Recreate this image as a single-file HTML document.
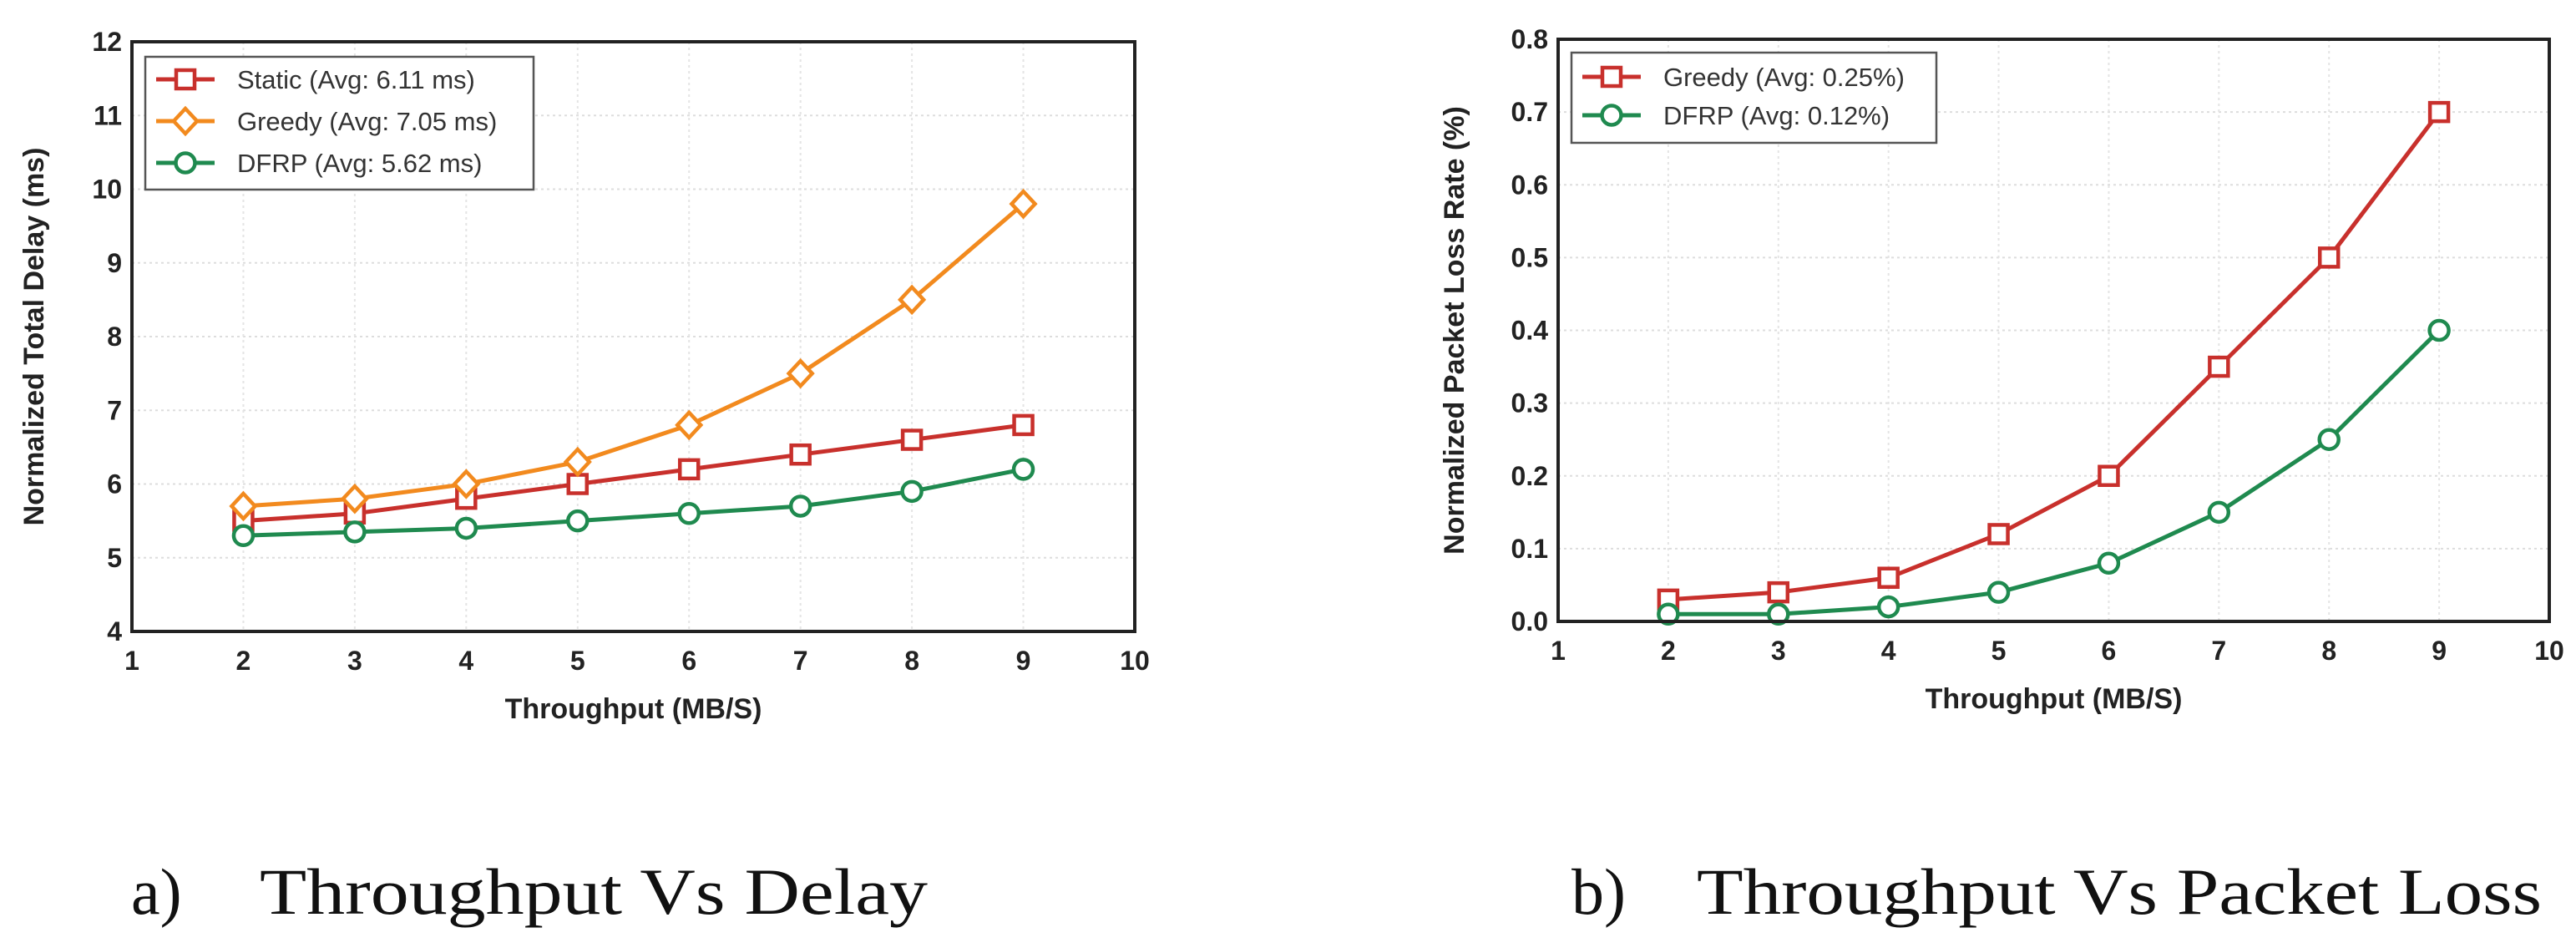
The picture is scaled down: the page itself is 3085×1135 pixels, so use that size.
<!DOCTYPE html>
<html><head><meta charset="utf-8"><style>
html,body{margin:0;padding:0;background:#fff;}
svg{display:block;font-family:"Liberation Sans",sans-serif;}
</style></head><body>
<svg id="fig" width="3085" height="1135" viewBox="0 0 3085 1135" xmlns="http://www.w3.org/2000/svg"></svg>
<script>
const xCats = [2,3,4,5,6,7,8,9];
const xTicks = [1,2,3,4,5,6,7,8,9,10];
const delayTicks = [4,5,6,7,8,9,10,11,12];
const delayStatic = [5.5,5.6,5.8,6.0,6.2,6.4,6.6,6.8];
const delayGreedy = [5.7,5.8,6.0,6.3,6.8,7.5,8.5,9.8];
const delayDFRP = [5.3,5.35,5.4,5.5,5.6,5.7,5.9,6.2];
const lossTicks = [0.0,0.1,0.2,0.3,0.4,0.5,0.6,0.7,0.8];
const lossGreedy = [0.03,0.04,0.06,0.12,0.2,0.35,0.5,0.7];
const lossDFRP = [0.01,0.01,0.02,0.04,0.08,0.15,0.25,0.4];

const NS="http://www.w3.org/2000/svg";
const svg=document.getElementById('fig');
function mk(tag,attrs,parent,text){const e=document.createElementNS(NS,tag);for(const k in attrs)e.setAttribute(k,attrs[k]);if(text!==undefined)e.textContent=text;(parent||svg).appendChild(e);return e;}
const RED="#c8302c",ORANGE="#f28a1e",GREEN="#1f8a4f";

function marker(g,type,cx,cy,color){
  let m;
  if(type==='square') m=mk('rect',{x:cx-11,y:cy-11,width:22,height:22,fill:'#fff',stroke:color,'stroke-width':4.5},g);
  else if(type==='diamond') m=mk('polygon',{points:`${cx},${cy-15} ${cx+14},${cy} ${cx},${cy+15} ${cx-14},${cy}`,fill:'#fff',stroke:color,'stroke-width':4.5},g);
  else m=mk('circle',{cx:cx,cy:cy,r:11.5,fill:'#fff',stroke:color,'stroke-width':4.5},g);
  return m;
}

function chart(cfg){
  const g=mk('g',{});
  
  
  const {L,R,T,B,ymin,ymax,yTicks,fmt}=cfg;
  const sx=v=>L+(v-1)/(10-1)*(R-L);
  const sy=v=>B-(v-ymin)/(ymax-ymin)*(B-T);
  yTicks.forEach(t=>{const l=mk('line',{x1:L,x2:R,y1:sy(t),y2:sy(t),stroke:'#ddd','stroke-width':2,'stroke-dasharray':'3 4'},g);});
  xTicks.forEach(t=>{const l=mk('line',{x1:sx(t),x2:sx(t),y1:T,y2:B,stroke:'#e4e4e4','stroke-width':2,'stroke-dasharray':'3 4'},g);});
  cfg.series.forEach(s=>{
    const sg=mk('g',{},g);
    
    
    const pts=xCats.map((x,i)=>sx(x)+','+sy(s.vals[i])).join(' ');
    const pl=mk('polyline',{points:pts,fill:'none',stroke:s.color,'stroke-width':5,'stroke-linejoin':'round'},sg);
    
    
    xCats.forEach((x,i)=>{const m=marker(sg,s.type,sx(x),sy(s.vals[i]),s.color);});
  });
  const fr=mk('rect',{x:L,y:T,width:R-L,height:B-T,fill:'none',stroke:'#222','stroke-width':4},g);
  
  yTicks.forEach(t=>{const e=mk('text',{x:L-12,y:sy(t)+11,'text-anchor':'end','font-size':32,'font-weight':'bold',fill:'#222'},g,fmt(t));});
  xTicks.forEach(t=>{const e=mk('text',{x:sx(t),y:B+46,'text-anchor':'middle','font-size':32,'font-weight':'bold',fill:'#222'},g,String(t));});
  const xt=mk('text',{x:(L+R)/2,y:B+104,'text-anchor':'middle','font-size':34,'font-weight':'bold',fill:'#222'},g,'Throughput (MB/S)');
  
  const yt=mk('text',{x:0,y:0,'text-anchor':'middle','font-size':34,'font-weight':'bold',fill:'#222',transform:`translate(${cfg.ytx},${(T+B)/2}) rotate(-90)`},g,cfg.ytitle);
  
  const lg=mk('g',{},g);
  
  mk('rect',{x:cfg.lg.x,y:cfg.lg.y,width:cfg.lg.w,height:cfg.lg.h,fill:'#fff',stroke:'#555','stroke-width':2.5},lg);
  cfg.series.forEach((s,i)=>{
    const ey=cfg.lg.y+cfg.lg.first+i*cfg.lg.step;
    const eg=mk('g',{},lg);
    
    mk('line',{x1:cfg.lg.x+13,x2:cfg.lg.x+83,y1:ey,y2:ey,stroke:s.color,'stroke-width':5},eg);
    marker(eg,s.type,cfg.lg.x+48,ey,s.color);
    mk('text',{x:cfg.lg.x+110,y:ey+11,'font-size':31,fill:'#333'},eg,s.label);
  });
}

chart({name:'delay-chart',L:158,R:1359,T:50,B:756,ymin:4,ymax:12,yTicks:delayTicks,fmt:t=>String(t),
  ytx:52,ytitle:'Normalized Total Delay (ms)',
  lg:{x:174,y:68,w:465,h:159,first:27,step:50},
  series:[
    {key:'static',label:'Static (Avg: 6.11 ms)',vals:delayStatic,color:RED,type:'square'},
    {key:'greedy',label:'Greedy (Avg: 7.05 ms)',vals:delayGreedy,color:ORANGE,type:'diamond'},
    {key:'dfrp',label:'DFRP (Avg: 5.62 ms)',vals:delayDFRP,color:GREEN,type:'circle'}]});

chart({name:'packet-loss-chart',L:1866,R:3053,T:47,B:744,ymin:0,ymax:0.8,yTicks:lossTicks,fmt:t=>t.toFixed(1),
  ytx:1753,ytitle:'Normalized Packet Loss Rate (%)',
  lg:{x:1882,y:63,w:437,h:108,first:29,step:46},
  series:[
    {key:'greedy',label:'Greedy (Avg: 0.25%)',vals:lossGreedy,color:RED,type:'square'},
    {key:'dfrp',label:'DFRP (Avg: 0.12%)',vals:lossDFRP,color:GREEN,type:'circle'}]});

const c1=mk('text',{x:157,y:1094,'font-family':'"Liberation Serif",serif','font-size':78,fill:'#111'},svg,'a)');

const c2=mk('text',{x:311,y:1094,'font-family':'"Liberation Serif",serif','font-size':78,fill:'#111',textLength:800,lengthAdjust:'spacingAndGlyphs'},svg,'Throughput Vs Delay');

const c3=mk('text',{x:1882,y:1094,'font-family':'"Liberation Serif",serif','font-size':78,fill:'#111'},svg,'b)');

const c4=mk('text',{x:2032,y:1094,'font-family':'"Liberation Serif",serif','font-size':78,fill:'#111',textLength:1012,lengthAdjust:'spacingAndGlyphs'},svg,'Throughput Vs Packet Loss');

</script>
</body></html>
